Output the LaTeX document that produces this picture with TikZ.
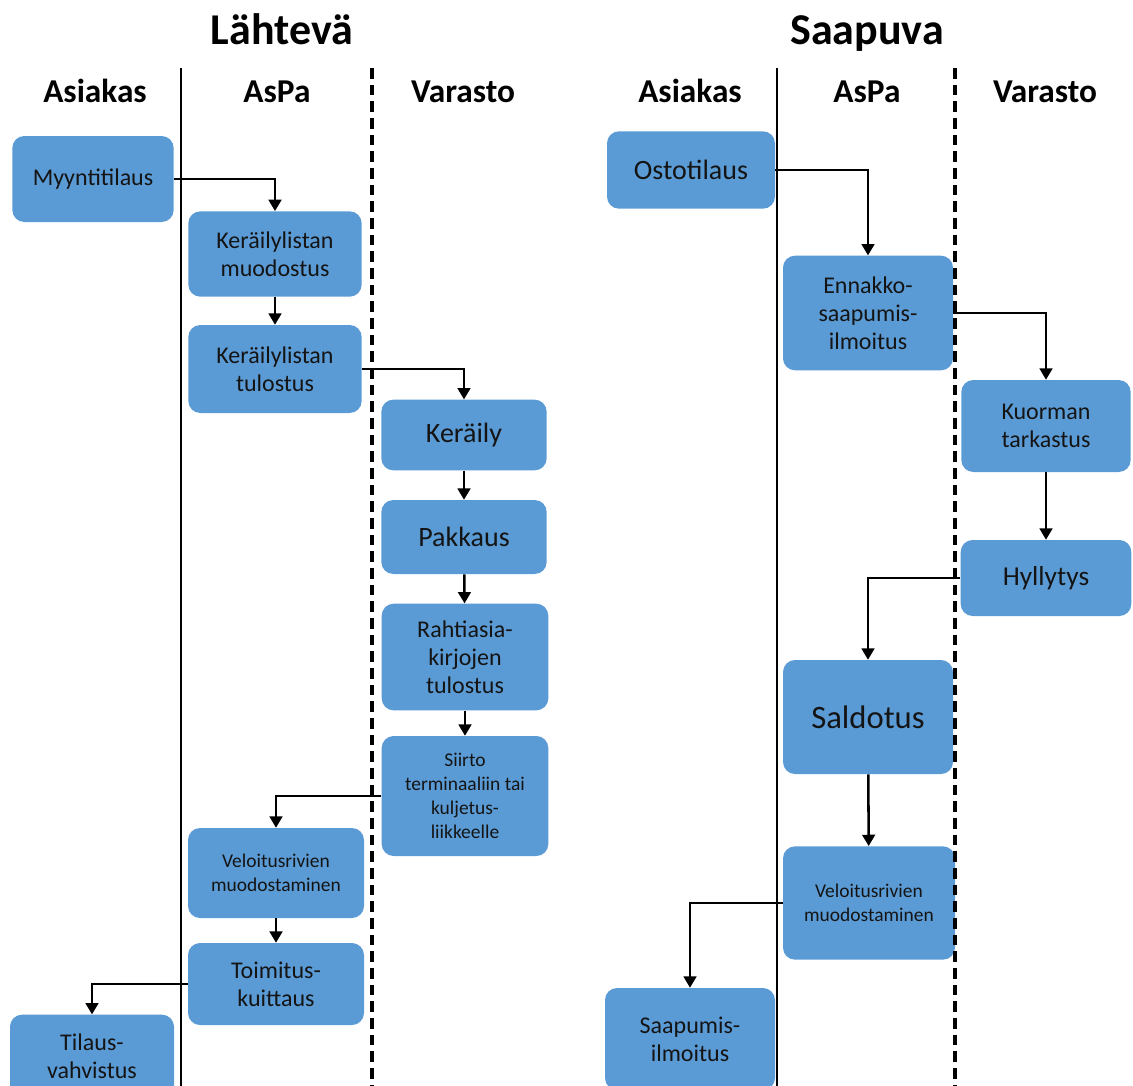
\documentclass[tikz,border=0pt]{standalone}
\usepackage{fontspec}
\setmainfont{Carlito}
\usepackage{xcolor}
\usetikzlibrary{arrows.meta}
\definecolor{boxblue}{RGB}{91,155,213}
\definecolor{inkgray}{RGB}{20,20,20}

\tikzset{
  stepbox/.style={rectangle, rounded corners=9pt, fill=boxblue, text=inkgray,
    align=center, inner sep=2pt, font=\fontsize{18}{21}\selectfont},
  bigtext/.style={font=\fontsize{21}{24}\selectfont},
  smalltext/.style={font=\fontsize{14.6}{18}\selectfont},
  lanehead/.style={anchor=base, font=\bfseries\fontsize{25}{30}\selectfont},
  sidetitle/.style={anchor=base, font=\bfseries\fontsize{33}{38}\selectfont},
  flow/.style={line width=1.9pt, -{Triangle[width=9.5pt,length=8.5pt]}},
  lane/.style={line width=1.8pt},
  lanedash/.style={line width=2.4pt, dash pattern=on 8pt off 4.5pt}
}

\begin{document}
\begin{tikzpicture}[x=0.75pt,y=-0.75pt]
  \useasboundingbox (0,0) rectangle (1133,1086);
  \clip (0,0) rectangle (1133,1086);

  % Titles and lane headers
  \node[sidetitle] (titleL) at (282,44) {Lähtevä};
  \node[sidetitle] (titleR) at (867,44) {Saapuva};
  \node[lanehead] (hAsiakasL) at (95,102) {Asiakas};
  \node[lanehead] (hAspaL) at (277,102) {AsPa};
  \node[lanehead] (hVarastoL) at (463,102) {Varasto};
  \node[lanehead] (hAsiakasR) at (690,102) {Asiakas};
  \node[lanehead] (hAspaR) at (867,102) {AsPa};
  \node[lanehead] (hVarastoR) at (1045,102) {Varasto};

  % Lahteva
  \node[stepbox, minimum width=121pt, minimum height=64.5pt] (myynti) at (93,179) {Myyntitilaus};
  \node[stepbox, minimum width=130pt, minimum height=64pt] (kmuod) at (275,254) {Keräilylistan\\muodostus};
  \node[stepbox, minimum width=130pt, minimum height=66pt] (ktulo) at (275,369) {Keräilylistan\\tulostus};
  \node[stepbox, bigtext, minimum width=124pt, minimum height=53pt] (keraily) at (464,435) {Keräily};
  \node[stepbox, bigtext, minimum width=124pt, minimum height=55.5pt] (pakkaus) at (464,537) {Pakkaus};
  \node[stepbox, minimum width=125pt, minimum height=80pt] (rahti) at (465,657) {Rahtiasia-\\kirjojen\\tulostus};
  \node[stepbox, smalltext, minimum width=125pt, minimum height=90pt] (siirto) at (465,796) {Siirto\\terminaaliin tai\\kuljetus-\\liikkeelle};
  \node[stepbox, smalltext, minimum width=132pt, minimum height=67.5pt] (veloL) at (276,873) {Veloitusrivien\\muodostaminen};
  \node[stepbox, minimum width=132pt, minimum height=61.5pt] (toimitus) at (276,984) {Toimitus-\\kuittaus};
  \node[stepbox, minimum width=123pt, minimum height=62pt] (tilaus) at (92,1056) {Tilaus-\\vahvistus};

  % Saapuva
  \node[stepbox, bigtext, minimum width=126pt, minimum height=58pt] (osto) at (691,170) {Ostotilaus};
  \node[stepbox, minimum width=127.5pt, minimum height=86pt] (ennakko) at (868,313) {Ennakko-\\saapumis-\\ilmoitus};
  \node[stepbox, minimum width=127pt, minimum height=69pt] (kuorma) at (1046,426) {Kuorman\\tarkastus};
  \node[stepbox, font=\fontsize{20.5}{24}\selectfont, minimum width=128pt, minimum height=57pt] (hylly) at (1046,578) {Hyllytys};
  \node[stepbox, font=\fontsize{24.5}{28}\selectfont, minimum width=127.5pt, minimum height=85.5pt] (saldo) at (868,717) {Saldotus};
  \node[stepbox, smalltext, minimum width=129pt, minimum height=85pt] (veloR) at (869,903) {Veloitusrivien\\muodostaminen};
  \node[stepbox, minimum width=127.5pt, minimum height=76.5pt] (saapumis) at (690,1039) {Saapumis-\\ilmoitus};

  % Connectors
  \draw[flow] (myynti.east) -| (kmuod.north);
  \draw[flow] (kmuod) -- (ktulo);
  \draw[flow] (ktulo.east) -| (keraily.north);
  \draw[flow] (keraily) -- (pakkaus);
  \draw[flow] (pakkaus) -- (rahti);
  \draw[flow] (rahti) -- (siirto);
  \draw[flow] (siirto.west) -| (veloL.north);
  \draw[flow] (veloL) -- (toimitus);
  \draw[flow] (toimitus.west) -| (tilaus.north);

  \draw[flow] (osto.east) -| (ennakko.north);
  \draw[flow] (ennakko.east) -| (kuorma.north);
  \draw[flow] (kuorma) -- (hylly);
  \draw[flow] (hylly.west) -| (saldo.north);
  \draw[flow] (saldo) -- (veloR);
  \draw[flow] (veloR.west) -| (saapumis.north);

  % Lanes
  \draw[lane] (181,68) -- (181,1086);
  \draw[lanedash] (372,68) -- (372,1086);
  \draw[lane] (777,68) -- (777,1086);
  \draw[lanedash] (955,68) -- (955,1086);
\end{tikzpicture}
\end{document}
